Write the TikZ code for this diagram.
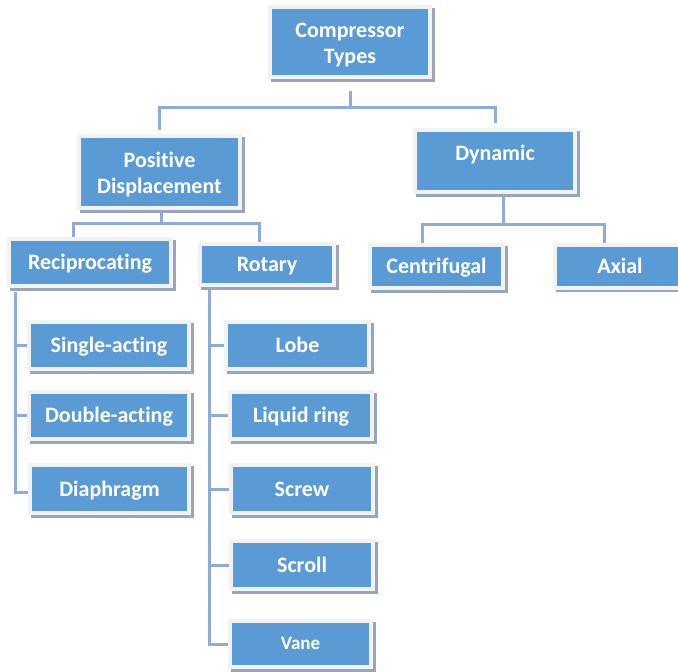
\documentclass[tikz,border=0pt]{standalone}
\usepackage{fontspec}
\setmainfont{Carlito}[Ligatures=NoCommon]
\usetikzlibrary{shadows}
\definecolor{boxblue}{RGB}{91,155,213}
\definecolor{boxrim}{RGB}{242,242,242}
\definecolor{boxshade}{RGB}{150,166,188}
\definecolor{linkblue}{RGB}{143,170,220}
\tikzstyle{block}=[draw=boxrim,line width=4pt,fill=boxblue,rectangle,inner sep=0pt,text=white,align=center,font=\bfseries\fontsize{22}{26.4}\selectfont,general shadow={draw=boxshade,fill=boxshade,shadow xshift=2.5pt,shadow yshift=-2.5pt}]
\tikzstyle{oneline}=[text height=17pt,text depth=3pt]
\tikzstyle{link}=[draw=linkblue,line width=3pt]

\begin{document}
\begin{tikzpicture}[x=1pt, y=-1pt]
    \useasboundingbox (0,0) rectangle (678,672);
    % First we draw the boxes
    \node[block, minimum width=160pt, minimum height=70pt] (comp) at (350,42) {\rule{0pt}{20pt}Compressor\\Types};
    \node[block, minimum width=161pt, minimum height=72pt] (pd) at (159.5,172) {\rule{0pt}{20pt}Positive\\Displacement};
    \node[block, minimum width=160pt, minimum height=62pt, text depth=17pt] (dyn) at (495,161) {Dynamic};
    \foreach \pos/\w/\h/\name/\txt in {{(90,262.5)/162/47/recip/Reciprocating}, {(267,264.5)/134/41/rot/Rotary},
        {(436.5,266.5)/133/43/cent/Centrifugal}, {(620,266)/130/43/axial/Axial},
        {(109,345.5)/160/47/single/Single-acting}, {(109,415.5)/160/47/double/Double-acting}, {(109.5,489)/159/48/diaph/Diaphragm},
        {(297.5,345.5)/143/47/lobe/Lobe}, {(301,415.5)/142/47/liquid/Liquid ring}, {(302,489)/142/48/screw/Screw}, {(302,565)/142/48/scroll/Scroll}}
        \node[block, oneline, minimum width=\w pt, minimum height=\h pt] (\name) at \pos {\txt};
    \node[block, text height=13pt, text depth=3pt, minimum width=141pt, minimum height=46pt, font=\bfseries\fontsize{19}{22.8}\selectfont] (vane) at (300.5,644) {Vane};
    % Then the buses between levels
    \coordinate (top bus) at (350,107);
    \coordinate (pd bus) at (161,223);
    \coordinate (dyn bus) at ([xshift=8pt]dyn.south |- 0,224);
    \path[link, shorten <=12pt] (comp.south) -- (top bus);
    \path[link, shorten <=4pt, shorten >=5pt] (pd.north) |- (top bus) -| (dyn.north);
    \path[link, shorten <=3pt] (pd.south -| pd bus) -- (pd bus);
    \path[link] ([xshift=-17pt]recip.north) |- (pd bus) -| ([xshift=-8pt]rot.north);
    \path[link, shorten <=3pt] ([xshift=8pt]dyn.south) -- (dyn bus);
    \path[link] ([xshift=-14pt]cent.north) |- (dyn bus) -| ([xshift=-16pt]axial.north);
    % Spines down the left of each column
    \coordinate (recip spine) at ([xshift=8pt,yshift=-4pt]recip.south west);
    \coordinate (rot spine) at ([xshift=11pt,yshift=-3pt]rot.south west);
    \path[link] (recip spine) |- ([yshift=-3pt]diaph.west);
    \foreach \kid in {single,double}
        \path[link] (\kid.west) -- (\kid.west -| recip spine);
    \path[link] (rot spine) |- (vane.west);
    \foreach \kid in {lobe,liquid,screw,scroll}
        \path[link] (\kid.west) -- (\kid.west -| rot spine);
\end{tikzpicture}
\end{document}
